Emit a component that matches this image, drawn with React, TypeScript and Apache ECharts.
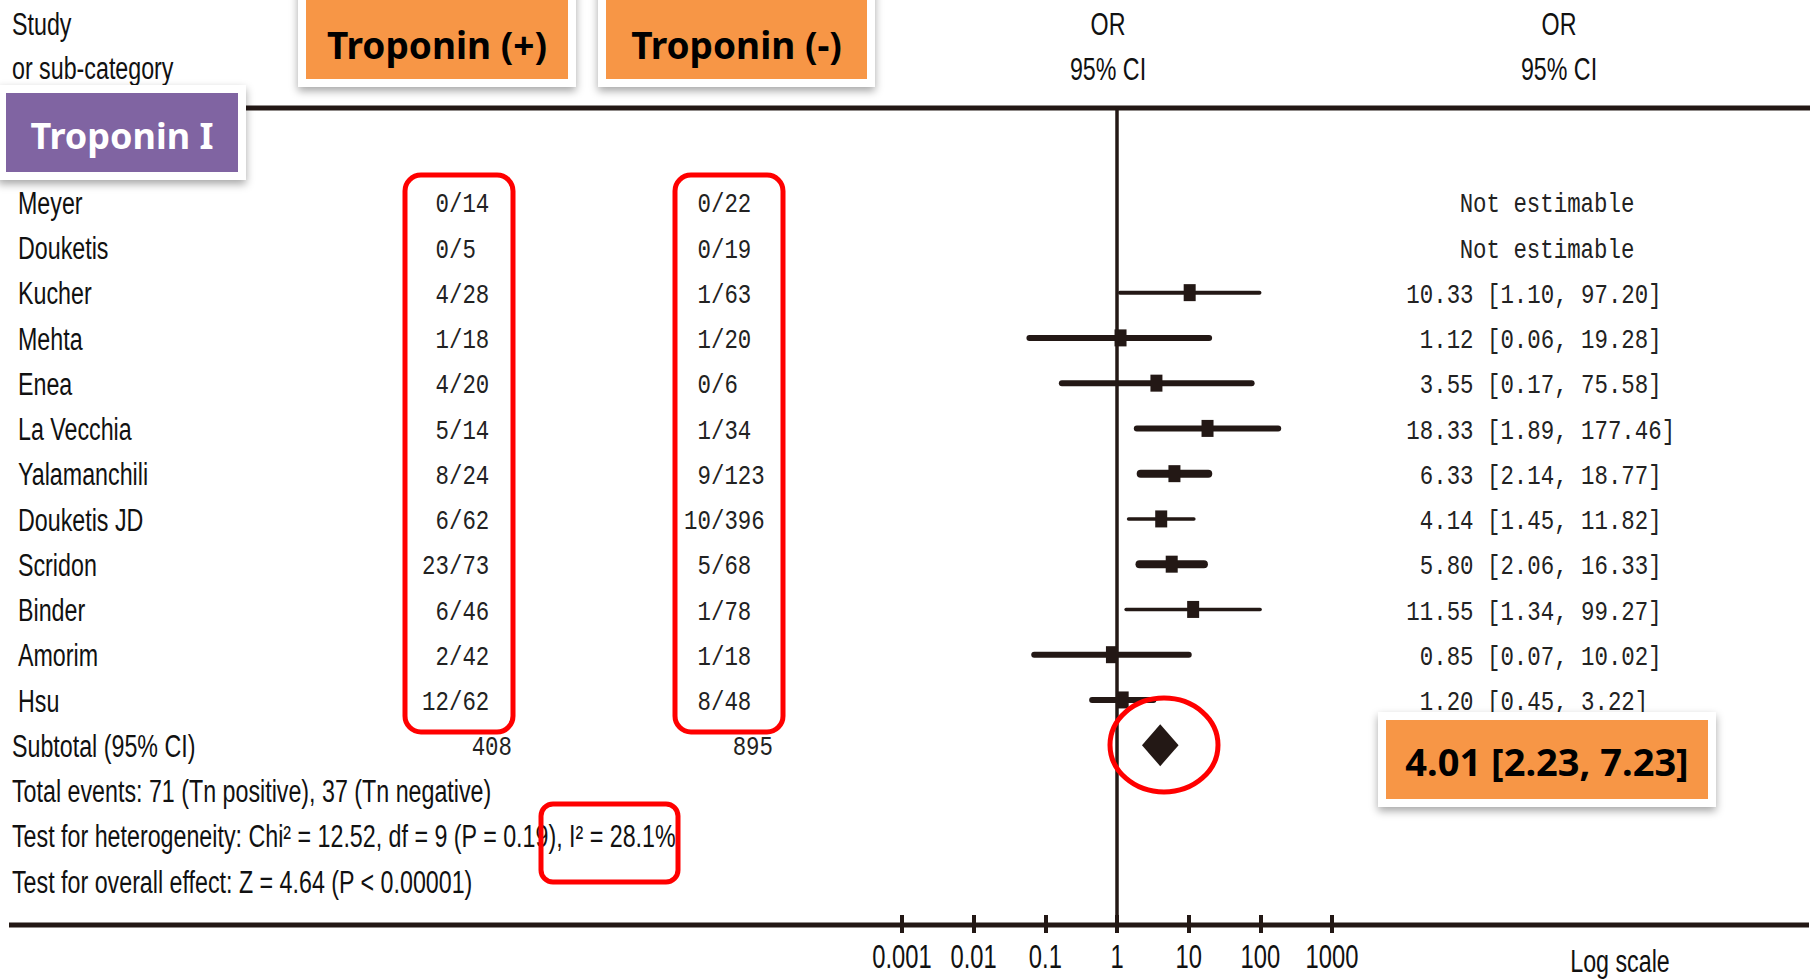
import React, { useEffect, useRef } from "react";
import * as echarts from "echarts";

// ---------- data ----------
const studies = ["Meyer", "Douketis", "Kucher", "Mehta", "Enea", "La Vecchia", "Yalamanchili", "Douketis JD", "Scridon", "Binder", "Amorim", "Hsu"];
const posEvents = [0, 0, 4, 1, 4, 5, 8, 6, 23, 6, 2, 12];
const posTotal = [14, 5, 28, 18, 20, 14, 24, 62, 73, 46, 42, 62];
const negEvents = [0, 0, 1, 1, 0, 1, 9, 10, 5, 1, 1, 8];
const negTotal = [22, 19, 63, 20, 6, 34, 123, 396, 68, 78, 18, 48];
const orValues = [null, null, 10.33, 1.12, 3.55, 18.33, 6.33, 4.14, 5.8, 11.55, 0.85, 1.2];
const ciLow = [null, null, 1.1, 0.06, 0.17, 1.89, 2.14, 1.45, 2.06, 1.34, 0.07, 0.45];
const ciHigh = [null, null, 97.2, 19.28, 75.58, 177.46, 18.77, 11.82, 16.33, 99.27, 10.02, 3.22];
const subtotalOR = [2.23, 7.23, 4.01];
const subtotalPos = 408;
const subtotalNeg = 895;
const tickValues = [0.001, 0.01, 0.1, 1, 10, 100, 1000];
const tickLabels = ["0.001", "0.01", "0.1", "1", "10", "100", "1000"];
const footerLines = [
  "Total events: 71 (Tn positive), 37 (Tn negative)",
  "Test for heterogeneity: Chi\u00b2 = 12.52, df = 9 (P = 0.19), I\u00b2 = 28.1%",
  "Test for overall effect: Z = 4.64 (P < 0.00001)",
];

// ---------- styles ----------
const W = 1818;
const H = 979;
const DARK = "#231815";
const ORANGE = "#F79646";
const PURPLE = "#8064A2";
const RED = "#FF0000";
const SANS = "'Liberation Sans', Arial, sans-serif";
const MONO = "'Liberation Mono', 'DejaVu Sans Mono', monospace";
const BOLD = "'Noto Sans', 'Liberation Sans', sans-serif";
const lineWidths = [0, 0, 4, 6, 6, 6, 8, 3.5, 8, 3.5, 6, 6];
const SANS_SIZE = 31;
const SANS_SX = 0.75;
const MONO_SIZE = 28;
const MONO_SX = 0.8;
const CW = 0.6 * MONO_SIZE * MONO_SX;
const MONO_DY = 3;
const SANS_DY = 1;
const Y_MIN = -2.08;
const Y_MAX = 15.752;

function sansText(x: number, y: number, text: string, align = "left", z = 10) {
  return {
    type: "text", x, y, scaleX: SANS_SX, z,
    style: { text, fill: "#111", fontSize: SANS_SIZE, fontFamily: SANS, textAlign: align, textVerticalAlign: "middle" },
  };
}
function monoText(x: number, y: number, text: string, align = "left") {
  return {
    type: "text", x, y, scaleX: MONO_SX,
    style: { text, fill: "#222", fontSize: MONO_SIZE, fontFamily: MONO, textAlign: align, textVerticalAlign: "middle" },
  };
}
function boxed(x: number, y: number, w: number, h: number, fill: string, text: string, color: string, size: number, ty: number, pad = 8) {
  return [
    {
      type: "rect", z: 20,
      shape: { x: x - pad, y: y - pad, width: w + 2 * pad, height: h + 2 * pad },
      style: { fill: "#fff", shadowBlur: 8, shadowOffsetY: 4, shadowColor: "rgba(0,0,0,0.35)" },
    },
    { type: "rect", z: 21, shape: { x, y, width: w, height: h }, style: { fill } },
    {
      type: "text", z: 22, x: x + w / 2, y: ty,
      style: { text, fill: color, fontSize: size, fontWeight: "bold", fontFamily: BOLD, textAlign: "center", textVerticalAlign: "middle" },
    },
  ];
}

const SLASH_POS = 449;
const SLASH_NEG = 711;
const BRACKET = 1487;

export default function App() {
  const ref = useRef<HTMLDivElement>(null);
  useEffect(() => {
    if (!ref.current) return;
    const chart = echarts.init(ref.current, null, { renderer: "svg" });

    const ciData = studies
      .map((_, i) => (orValues[i] == null ? null : [ciLow[i], ciHigh[i], orValues[i], i]))
      .filter((d) => d != null);

    const tableRows = studies.map((_, i) => [1, i]);
    const summaryRows = [12, 13, 14, 15].map((r) => [1, r]);
    const tickData = tickValues.map((v, i) => [v, Y_MAX, i]);

    const graphic: any[] = [
      { type: "line", z: 5, shape: { x1: 0, y1: 108, x2: 1810, y2: 108 }, style: { stroke: DARK, lineWidth: 5 } },
      { type: "line", z: 5, shape: { x1: 9, y1: 925, x2: 1809, y2: 925 }, style: { stroke: DARK, lineWidth: 5 } },
      sansText(12, 24, "Study"),
      sansText(12, 68, "or sub-category"),
      sansText(1108, 24, "OR", "center"),
      sansText(1108, 69, "95% CI", "center"),
      sansText(1559, 24, "OR", "center"),
      sansText(1559, 69, "95% CI", "center"),
      sansText(1620, 961, "Log scale", "center"),
      ...boxed(306, -10, 262, 89, ORANGE, "Troponin (+)", "#000", 37, 44),
      ...boxed(606, -10, 261, 89, ORANGE, "Troponin (-)", "#000", 37, 44),
      ...boxed(6, 93, 232, 79, PURPLE, "Troponin I", "#fff", 36, 135),
      ...boxed(1386, 720, 322, 79, ORANGE, "4.01 [2.23, 7.23]", "#000", 38, 761),
      { type: "rect", z: 15, shape: { x: 405, y: 175, width: 108, height: 557, r: 16 }, style: { fill: "none", stroke: RED, lineWidth: 5 } },
      { type: "rect", z: 15, shape: { x: 675, y: 175, width: 108, height: 557, r: 16 }, style: { fill: "none", stroke: RED, lineWidth: 5 } },
      { type: "rect", z: 15, shape: { x: 541, y: 804, width: 137, height: 78, r: 12 }, style: { fill: "none", stroke: RED, lineWidth: 5 } },
      { type: "ellipse", z: 15, shape: { cx: 1164, cy: 745, rx: 54, ry: 47 }, style: { fill: "none", stroke: RED, lineWidth: 5 } },
    ];

    const option: any = {
      animation: false,
      backgroundColor: "#fff",
      grid: { left: 902, right: W - 1332, top: 108, bottom: H - 915, containLabel: false },
      xAxis: {
        type: "log", logBase: 10, min: 0.001, max: 1000, splitNumber: 6,
        axisLine: { show: false, onZero: false },
        axisTick: { show: true, length: 18, lineStyle: { color: DARK, width: 4 } },
        splitLine: { show: false },
        axisLabel: { show: false },
      },
      yAxis: { type: "value", inverse: true, min: Y_MIN, max: Y_MAX, show: false },
      graphic,
      series: [
        {
          type: "custom", name: "CI", z: 3,
          data: ciData,
          encode: { x: [0, 1, 2], y: 3 },
          renderItem: (params: any, api: any) => {
            const row = api.value(3);
            const p0 = api.coord([api.value(0), row]);
            const p1 = api.coord([api.value(1), row]);
            const c = api.coord([api.value(2), row]);
            const lw = lineWidths[row];
            return {
              type: "group",
              children: [
                { type: "line", shape: { x1: p0[0], y1: p0[1], x2: p1[0], y2: p1[1] }, style: { stroke: DARK, lineWidth: lw, lineCap: "round" } },
                { type: "rect", shape: { x: c[0] - 6, y: c[1] - 8.5, width: 12, height: 17 }, style: { fill: DARK } },
              ],
            };
          },
          markLine: {
            silent: true, symbol: ["none", "none"], label: { show: false },
            lineStyle: { color: DARK, width: 3.5, type: "solid" },
            data: [{ xAxis: 1 }],
          },
        },
        {
          type: "custom", name: "Subtotal", z: 3,
          data: [[subtotalOR[0], subtotalOR[1], subtotalOR[2], 12]],
          encode: { x: [0, 1, 2], y: 3 },
          renderItem: (params: any, api: any) => {
            const row = api.value(3);
            const p0 = api.coord([api.value(0), row]);
            const p1 = api.coord([api.value(1), row]);
            const c = api.coord([api.value(2), row]);
            return {
              type: "polygon",
              shape: { points: [[p0[0], c[1]], [c[0], c[1] - 21], [p1[0], c[1]], [c[0], c[1] + 21]] },
              style: { fill: DARK },
            };
          },
        },
        {
          type: "custom", name: "TickLabels", z: 4,
          data: tickData,
          encode: { x: 0, y: 1 },
          renderItem: (params: any, api: any) => {
            const p = api.coord([api.value(0), api.value(1)]);
            return {
              type: "text", x: p[0], y: p[1] + 42, scaleX: 0.72,
              style: { text: tickLabels[api.value(2)], fill: "#111", fontSize: 33, fontFamily: SANS, textAlign: "center", textVerticalAlign: "middle" },
            };
          },
        },
        {
          type: "custom", name: "Table", z: 4,
          data: tableRows,
          encode: { x: 0, y: 1 },
          renderItem: (params: any, api: any) => {
            const i = api.value(1);
            const y0 = api.coord([1, i])[1];
            const y = y0 + MONO_DY;
            const pn = String(posEvents[i]);
            const nn = String(negEvents[i]);
            const children: any[] = [
              sansText(18, y0 + SANS_DY, studies[i]),
              monoText(SLASH_POS - pn.length * CW, y, `${pn}/${posTotal[i]}`),
              monoText(SLASH_NEG - nn.length * CW, y, `${nn}/${negTotal[i]}`),
            ];
            if (orValues[i] == null) {
              children.push(monoText(1547, y, "Not estimable", "center"));
            } else {
              const o = (orValues[i] as number).toFixed(2);
              const t = `${o} [${(ciLow[i] as number).toFixed(2)}, ${(ciHigh[i] as number).toFixed(2)}]`;
              children.push(monoText(BRACKET - (o.length + 1) * CW, y, t));
            }
            return { type: "group", children };
          },
        },
        {
          type: "custom", name: "Summary", z: 4,
          data: summaryRows,
          encode: { x: 0, y: 1 },
          renderItem: (params: any, api: any) => {
            const r = api.value(1);
            const y0 = api.coord([1, r])[1];
            if (r === 12) {
              return {
                type: "group",
                children: [
                  sansText(12, y0 + SANS_DY, "Subtotal (95% CI)"),
                  monoText(512, y0 + MONO_DY, String(subtotalPos), "right"),
                  monoText(773, y0 + MONO_DY, String(subtotalNeg), "right"),
                ],
              };
            }
            return sansText(12, y0 + SANS_DY, footerLines[r - 13]);
          },
        },
      ],
    };
    chart.setOption(option);
    return () => chart.dispose();
  }, []);
  return <div ref={ref} style={{ position: "fixed", left: 0, top: 0, width: W, height: H, background: "#fff" }} />;
}
